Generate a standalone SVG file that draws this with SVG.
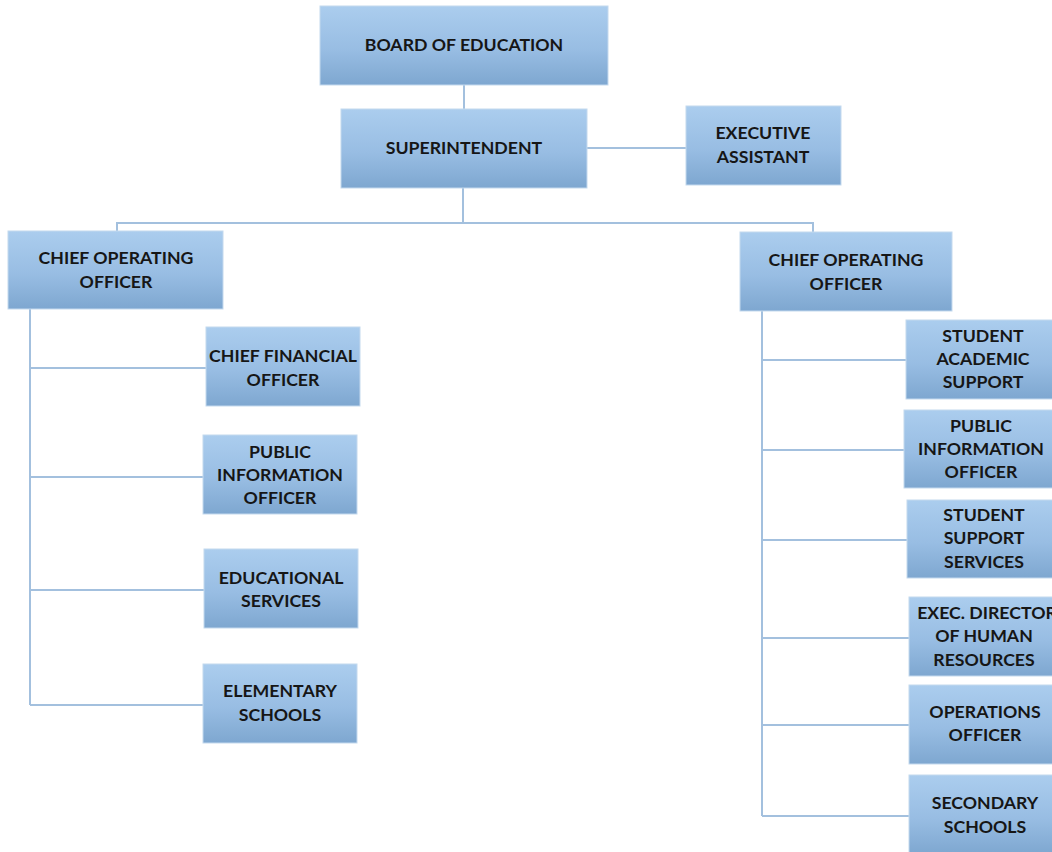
<svg xmlns="http://www.w3.org/2000/svg" width="1052" height="852" viewBox="0 0 1052 852">
<defs>
<linearGradient id="g" x1="0" y1="0" x2="0" y2="1">
<stop offset="0" stop-color="#abcdee"/>
<stop offset="0.55" stop-color="#98bde3"/>
<stop offset="1" stop-color="#7ea7d0"/>
</linearGradient>
<style>
.box{fill:url(#g);stroke:#c4d9ee;stroke-width:1}
.t{font-family:Lato,"Liberation Sans",sans-serif;font-weight:bold;font-size:17.7px;fill:#161616;text-anchor:middle;dominant-baseline:central}
.c{fill:none;stroke:#a3c0de;stroke-width:2}
</style>
</defs>
<rect width="1052" height="852" fill="#ffffff"/>
<g id="connectors">
<path class="c" d="M464 85V109"/>
<path class="c" d="M587 148H686"/>
<path class="c" d="M463 188V223M117 231V223H813V232"/>
<path class="c" d="M30 309V705M30 368H206M30 477H203M30 590H204M30 705H203"/>
<path class="c" d="M762 311V816M762 360H906M762 450H904M762 540H907M762 638H909M762 725H909M762 816H909"/>
</g>
<g id="board"><rect class="box" x="320" y="6" width="288" height="79"/><text class="t" x="464" y="44">BOARD OF EDUCATION</text></g>
<g id="superintendent"><rect class="box" x="341" y="109" width="246" height="79"/><text class="t" x="464" y="147">SUPERINTENDENT</text></g>
<g id="exec-assistant"><rect class="box" x="686" y="106" width="155" height="79"/><text class="t" x="763" y="132">EXECUTIVE</text><text class="t" x="763" y="156">ASSISTANT</text></g>
<g id="coo-left"><rect class="box" x="8" y="231" width="215" height="78"/><text class="t" x="116" y="257">CHIEF OPERATING</text><text class="t" x="116" y="281">OFFICER</text></g>
<g id="coo-right"><rect class="box" x="740" y="232" width="212" height="79"/><text class="t" x="846" y="259">CHIEF OPERATING</text><text class="t" x="846" y="283">OFFICER</text></g>
<g id="cfo"><rect class="box" x="206" y="327" width="154" height="79"/><text class="t" x="283" y="355">CHIEF FINANCIAL</text><text class="t" x="283" y="379">OFFICER</text></g>
<g id="pio-left"><rect class="box" x="203" y="435" width="154" height="79"/><text class="t" x="280" y="451">PUBLIC</text><text class="t" x="280" y="474">INFORMATION</text><text class="t" x="280" y="497">OFFICER</text></g>
<g id="educational"><rect class="box" x="204" y="549" width="154" height="79"/><text class="t" x="281" y="577">EDUCATIONAL</text><text class="t" x="281" y="600">SERVICES</text></g>
<g id="elementary"><rect class="box" x="203" y="664" width="154" height="79"/><text class="t" x="280" y="690">ELEMENTARY</text><text class="t" x="280" y="714">SCHOOLS</text></g>
<g id="student-academic"><rect class="box" x="906" y="320" width="155" height="79"/><text class="t" x="983" y="335">STUDENT</text><text class="t" x="983" y="358">ACADEMIC</text><text class="t" x="983" y="381">SUPPORT</text></g>
<g id="pio-right"><rect class="box" x="904" y="410" width="155" height="78"/><text class="t" x="981" y="425">PUBLIC</text><text class="t" x="981" y="448">INFORMATION</text><text class="t" x="981" y="471">OFFICER</text></g>
<g id="student-support"><rect class="box" x="907" y="500" width="155" height="78"/><text class="t" x="984" y="514">STUDENT</text><text class="t" x="984" y="537">SUPPORT</text><text class="t" x="984" y="561">SERVICES</text></g>
<g id="exec-director"><rect class="box" x="909" y="597" width="160" height="79"/><text class="t" x="987" y="612">EXEC. DIRECTOR</text><text class="t" x="984" y="635">OF HUMAN</text><text class="t" x="984" y="659">RESOURCES</text></g>
<g id="operations"><rect class="box" x="909" y="685" width="155" height="79"/><text class="t" x="985" y="711">OPERATIONS</text><text class="t" x="985" y="734">OFFICER</text></g>
<g id="secondary"><rect class="box" x="909" y="775" width="155" height="79"/><text class="t" x="985" y="802">SECONDARY</text><text class="t" x="985" y="826">SCHOOLS</text></g>
</svg>
